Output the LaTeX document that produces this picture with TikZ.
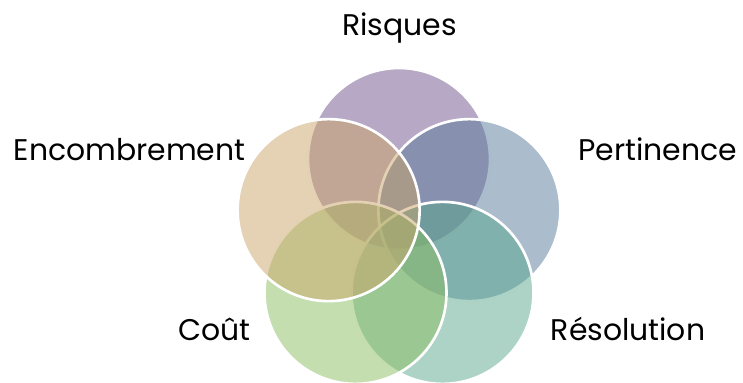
\documentclass[tikz,border=0pt]{standalone}
\usepackage{fontspec}
\setmainfont{Poppins}
\usepackage{tikz}
\usetikzlibrary{positioning}

\definecolor{risques}{RGB}{111,83,139}
\definecolor{pertinence}{RGB}{87,121,153}
\definecolor{resolution}{RGB}{89,167,141}
\definecolor{cout}{RGB}{139,189,97}
\definecolor{encombrement}{RGB}{203,165,105}

\begin{document}
\begin{tikzpicture}[font=\fontsize{17}{20}\selectfont,
    venn/.style={circle, draw=white, line width=1.5pt, fill opacity=.5,
      minimum size=3.64cm, inner sep=0pt}]
  \useasboundingbox (0,0) rectangle (14.86,7.64);
  \coordinate (mid) at (7.98,2.98);
  % five overlapping circles, last one on top
  \foreach\name/\ang/\col in {R/90/risques, P/18/pertinence, S/-54/resolution,
      C/-126/cout, E/162/encombrement}{
    \node[venn, fill=\col] (\name) at ([shift={(\ang:1.48)}]mid) {};
  }
  \node[anchor=base] (lR) at (7.99,6.94) {Risques};
  \node[anchor=base] (lE) at (2.59,4.44) {Encombrement};
  \node[anchor=base] (lP) at (13.15,4.44) {Pertinence};
  \node[anchor=base] (lC) at (4.29,0.84) {Coût};
  \node[anchor=base] (lS) at (12.56,0.84) {Résolution};
\end{tikzpicture}
\end{document}
